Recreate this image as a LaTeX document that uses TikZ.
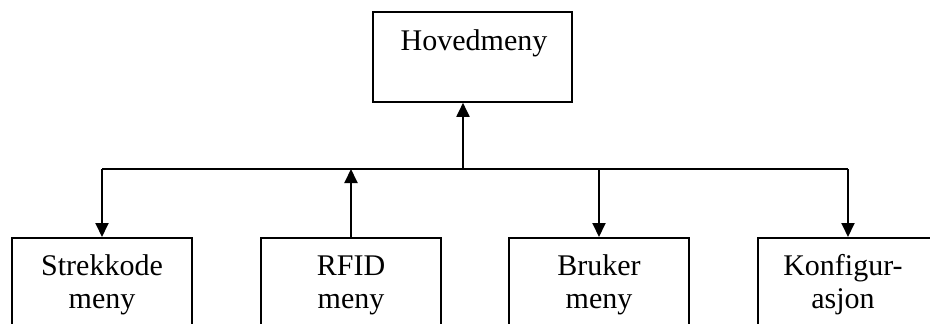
\documentclass[tikz,border=0pt]{standalone}
\usepackage{fontspec}
\setmainfont{Liberation Serif}
\usetikzlibrary{arrows.meta}
\begin{document}
\begin{tikzpicture}[x=1pt, y=-1pt,
  box/.style={draw, line width=1.6pt, minimum width=180pt, minimum height=130pt, anchor=north, inner sep=0pt},
  topbox/.style={draw, line width=1.6pt, minimum width=199pt, minimum height=90pt, inner sep=0pt},
  lbl/.style={align=center, font=\fontsize{30}{33}\selectfont, inner sep=0pt, anchor=base},
  wire/.style={line width=1.5pt},
  arr/.style={line width=1.9pt, -{Triangle[width=13pt, length=14pt]}}]
  \useasboundingbox (0,0) rectangle (930,324);

  % main menu
  \node[topbox] (h) at (472.5,57) {};
  \node[lbl] (ht) at (474,50) {Hovedmeny};

  % sub menus
  \node[box] (s) at (102,237) {};
  \node[box] (r) at (351,237) {};
  \node[box] (b) at (599,237) {};
  \node[box] (k) at (848,237) {};
  \node[lbl] (st) at (102,308) {Strekkode\\meny};
  \node[lbl] (rt) at (351,308) {RFID\\meny};
  \node[lbl] (bt) at (599,308) {Bruker\\meny};
  \node[lbl] (kt) at (843,308) {Konfigur-\\asjon};

  % distribution bus
  \coordinate (jL) at (102,169);
  \coordinate (jR) at (848,169);
  \coordinate (jc) at (463,169);
  \draw[wire] (jL) -- (jR);
  \draw[arr] (jc) -- (jc |- h.south);
  \draw[arr] (jL) -- (s.north);
  \draw[arr] (r.north) -- (r.north |- jL);
  \draw[arr] (b.north |- jL) -- (b.north);
  \draw[arr] (jR) -- (k.north);
\end{tikzpicture}
\end{document}
